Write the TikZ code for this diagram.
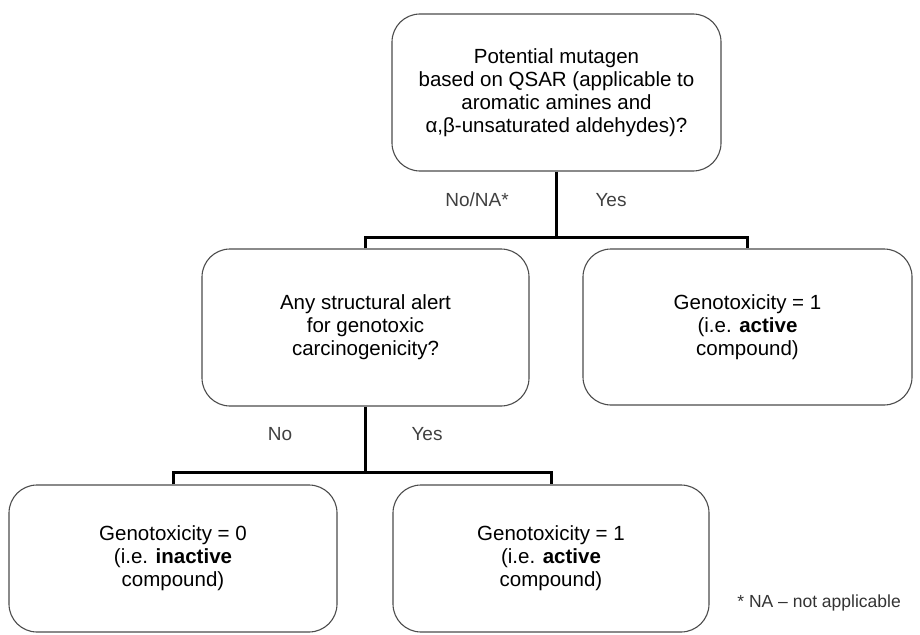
\documentclass[tikz,border=0pt]{standalone}
\usepackage{fontspec}
\setmainfont{Liberation Sans}
\begin{document}
\begin{tikzpicture}[x=1pt,y=-1pt,
  box/.style={draw=black!70,line width=1.1pt,rounded corners=28pt,align=center,
    font=\fontsize{20.5}{23}\selectfont,inner sep=0pt},
  conn/.style={line width=3pt,draw=black,line join=miter},
  lbl/.style={font=\fontsize{19}{22}\selectfont,text=black!75,inner sep=0pt},
  note/.style={font=\fontsize{17.5}{20}\selectfont,text=black!80,inner sep=0pt}]
\useasboundingbox (0,0) rectangle (920,634);
\node[box,minimum width=329pt,minimum height=157pt] (top) at (556.5,92.5)
  {Potential mutagen\\based on QSAR (applicable to\\aromatic amines and\\α,β-unsaturated aldehydes)?};
\node[box,minimum width=327pt,minimum height=157pt] (alert) at (365.5,327.5)
  {Any structural alert\\for genotoxic\\carcinogenicity?};
\node[box,minimum width=329pt,minimum height=156pt] (act1) at (747.5,327)
  {Genotoxicity = 1\\(i.e. \textbf{active}\\compound)};
\node[box,minimum width=328pt,minimum height=147pt] (inact) at (173,558.5)
  {Genotoxicity = 0\\(i.e. \textbf{inactive}\\compound)};
\node[box,minimum width=316pt,minimum height=147pt] (act2) at (551,558.5)
  {Genotoxicity = 1\\(i.e. \textbf{active}\\compound)};
\coordinate (j1) at (556.5,237);
\coordinate (j2) at (365.5,472);
\draw[conn] (top.south) -- (j1);
\draw[conn] (alert.north) |- (j1) -| (act1.north);
\draw[conn] (alert.south) -- (j2);
\draw[conn] (inact.north) |- (j2) -| (act2.north);
\node[lbl] (l1) at (477,200) {No/NA*};
\node[lbl] (l2) at (611,200) {Yes};
\node[lbl] (l3) at (280,434) {No};
\node[lbl] (l4) at (427,434) {Yes};
\node[note,anchor=east] (fn) at (901,603) {* NA – not applicable};
\end{tikzpicture}
\end{document}
